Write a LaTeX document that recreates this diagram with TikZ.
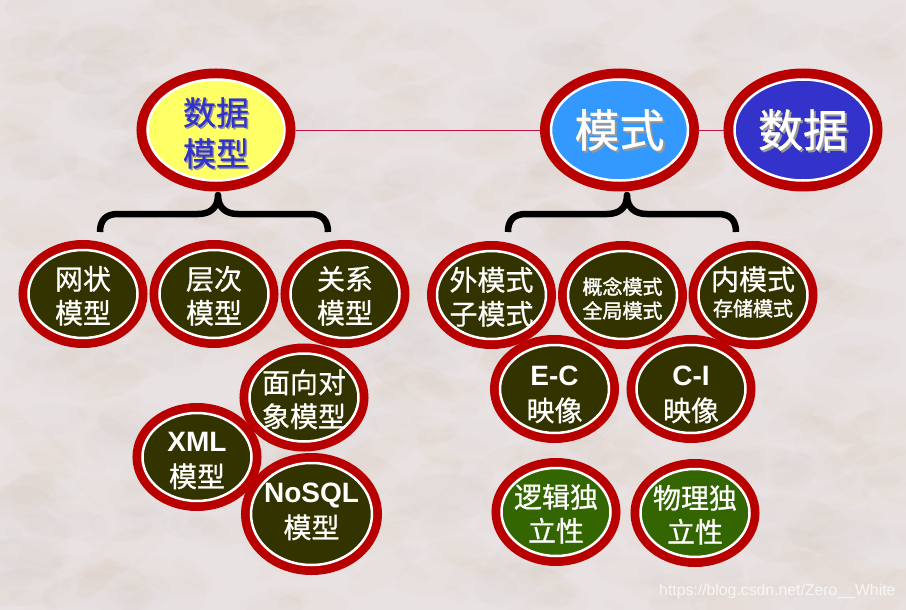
\documentclass[tikz,border=0pt]{standalone}
\usepackage{fontspec}
\setmainfont{Liberation Sans}
\newfontfamily\cjk[FakeBold=0.7]{Noto Sans CJK SC}
\newfontfamily\cjkheavy[FakeBold=1.6]{Noto Sans CJK SC}
\usetikzlibrary{shapes.geometric}

\definecolor{ringred}{HTML}{B80000}
\definecolor{darkolive}{HTML}{333300}
\definecolor{leafgreen}{HTML}{336600}
\definecolor{lemon}{HTML}{FFFF66}
\definecolor{skyblue}{HTML}{3399FF}
\definecolor{deepblue}{HTML}{3333CC}
\definecolor{stone}{HTML}{E8E2E3}
\definecolor{stonepeach}{HTML}{DDB896}
\definecolor{stonegrey}{HTML}{B8AFB8}
\definecolor{linkred}{HTML}{C0104A}

% text with a grey copy a little to the lower right
\newcommand{\shadowed}[3]{\rlap{\kern#3\raisebox{-#3}{\textcolor{#1}{#2}}}#2}
\newcommand{\lesser}{\fontsize{20}{25}\selectfont\cjkheavy}

\tikzset{
	oval/.style = {ellipse, inner sep=-40pt, outer sep=0pt, minimum width=109pt, minimum height=88pt,
		fill=darkolive, draw=white, line width=2.5pt, text=white, align=center, text depth=0pt, text height=59pt,
		font=\fontsize{28}{34}\selectfont\cjk, preaction={draw=ringred, line width=20pt}},
	bigoval/.style = {oval, minimum width=137pt, minimum height=101pt, preaction={draw=ringred, line width=22pt}},
	greenoval/.style = {oval, fill=leafgreen},
	brace/.style = {line width=6.5pt, line join=round}
}

\begin{document}
\begin{tikzpicture}[
			x = 1pt,
			y = -1pt, % same numbers as the pixels
			link/.style = {draw=linkred, line width=0.9pt, shorten > = 11pt, shorten < = 11pt}
		]

	\useasboundingbox (0,0) rectangle (906,610);
	\fill[stone] (0,0) rectangle (906,610);

	% stone texture
	\pgfmathsetseed{41}
	\foreach \i in {1,...,500} {
		\pgfmathsetmacro{\px}{rnd*906}
		\pgfmathsetmacro{\py}{rnd*610}
		\pgfmathsetmacro{\pr}{10+rnd*38}
		\pgfmathsetmacro{\pa}{-40+rnd*80}
		\fill[stonepeach, opacity=0.045, rotate around={\pa:(\px,\py)}] (\px,\py) ellipse ({\pr} and {\pr*0.4});
	}
	\foreach \i in {1,...,200} {
		\pgfmathsetmacro{\px}{rnd*906}
		\pgfmathsetmacro{\py}{rnd*610}
		\pgfmathsetmacro{\pr}{14+rnd*40}
		\fill[stonegrey, opacity=0.04] (\px,\py) ellipse ({\pr} and {\pr*0.5});
	}

	% top row
	\node[bigoval, fill=lemon, text=deepblue, font=\fontsize{33}{41}\selectfont\cjk, text height=72pt] (datamodel) at (216,130)
		{\shadowed{black!40}{数据}{1.5pt}\\\shadowed{black!40}{模型}{1.5pt}};
	\node[bigoval, fill=skyblue, font=\fontsize{45}{50}\selectfont\cjk, text height=39pt, text depth=5pt] (schema) at (619.5,130) {\shadowed{black!40}{模式}{2pt}};
	\node[bigoval, fill=deepblue, font=\fontsize{45}{50}\selectfont\cjk, text height=39pt, text depth=5pt] (data) at (803,130) {\shadowed{black!40}{数据}{2pt}};

	\draw[link] (datamodel.east) -- (schema.west);
	\draw[link] (schema.east) -- (data.west);

	% braces
	\coordinate (lb0) at (100,232);
	\coordinate (lb1) at (218,195);
	\coordinate (lb2) at (328,232);
	\coordinate (rb0) at (508,232);
	\coordinate (rb1) at (627,195);
	\coordinate (rb2) at (736,232);
	\draw[brace] (lb0) .. controls (100,220) and (106,214) .. (118,214) -- (198,214)
		.. controls (210,214) and (218,208) .. (lb1) .. controls (218,208) and (226,214) .. (238,214)
		-- (310,214) .. controls (322,214) and (328,220) .. (lb2);
	\draw[brace] (rb0) .. controls (508,220) and (514,214) .. (526,214) -- (607,214)
		.. controls (619,214) and (627,208) .. (rb1) .. controls (627,208) and (635,214) .. (647,214)
		-- (718,214) .. controls (730,214) and (736,220) .. (rb2);

	% data models
	\node[oval] (mesh) at (83,294) {网状\\模型};
	\node[oval] (layer) at (214,294) {层次\\模型};
	\node[oval] (relation) at (345,294) {关系\\模型};
	\node[oval] (object) at (304,397.5) {面向对\\象模型};
	\node[oval, text height=60pt] (xml) at (197,457) {{\bfseries\rmfamily XML}\\[2pt]模型};
	\node[oval, minimum width=121pt, minimum height=102pt, text height=54pt, text depth=6pt] (nosql) at (311.5,514) {{\bfseries\rmfamily NoSQL}\\[2pt]模型};

	% schemas
	\node[oval] (outer) at (491.5,295) {外模式\\子模式};
	\node[oval, text height=46.5pt] (concept) at (622.5,295) {{\lesser 概念模式}\\[-10pt]{\lesser 全局模式}};
	\node[oval, text height=47pt, text depth=5pt] (inner) at (753,295) {内模式\\[-8pt]{\lesser 存储模式}};
	\node[oval, text height=64pt] (ec) at (554.5,389) {{\bfseries\rmfamily E-C}\\[2pt]映像};
	\node[oval, text height=64pt] (ci) at (691,389) {{\bfseries\rmfamily C-I}\\[2pt]映像};
	\node[greenoval] (logic) at (556,512) {逻辑独\\立性};
	\node[greenoval] (physic) at (695,513) {物理独\\立性};

	\node[text=white, opacity=0.75, font=\fontsize{15.8}{20}\selectfont, anchor=east] (mark) at (899,591) {https://blog.csdn.net/Zero\_\_White};

\end{tikzpicture}
\end{document}
